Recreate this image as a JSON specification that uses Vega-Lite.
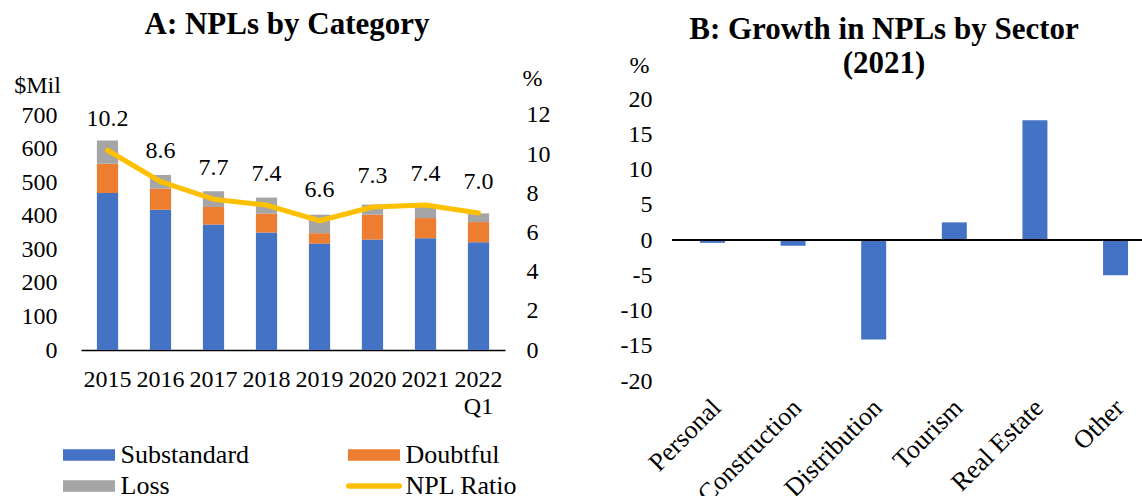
{
  "$schema": "https://vega.github.io/schema/vega-lite/v6.json",
  "autosize": {"type": "pad"},
  "padding": {"left": 13, "top": 9, "right": 0, "bottom": 0},
  "bounds": "flush",
  "spacing": 167,
  "datasets": {
    "npl": [
      {"year": "2015", "category": "Substandard", "value": 468},
      {"year": "2015", "category": "Doubtful", "value": 87},
      {"year": "2015", "category": "Loss", "value": 69},
      {"year": "2016", "category": "Substandard", "value": 418},
      {"year": "2016", "category": "Doubtful", "value": 62},
      {"year": "2016", "category": "Loss", "value": 41},
      {"year": "2017", "category": "Substandard", "value": 374},
      {"year": "2017", "category": "Doubtful", "value": 52},
      {"year": "2017", "category": "Loss", "value": 47},
      {"year": "2018", "category": "Substandard", "value": 350},
      {"year": "2018", "category": "Doubtful", "value": 56},
      {"year": "2018", "category": "Loss", "value": 48},
      {"year": "2019", "category": "Substandard", "value": 317},
      {"year": "2019", "category": "Doubtful", "value": 31},
      {"year": "2019", "category": "Loss", "value": 55},
      {"year": "2020", "category": "Substandard", "value": 329},
      {"year": "2020", "category": "Doubtful", "value": 74},
      {"year": "2020", "category": "Loss", "value": 30},
      {"year": "2021", "category": "Substandard", "value": 333},
      {"year": "2021", "category": "Doubtful", "value": 60},
      {"year": "2021", "category": "Loss", "value": 36},
      {"year": "2022 Q1", "category": "Substandard", "value": 321},
      {"year": "2022 Q1", "category": "Doubtful", "value": 60},
      {"year": "2022 Q1", "category": "Loss", "value": 26}
    ],
    "ratio": [
      {"year": "2015", "ratio": 10.2},
      {"year": "2016", "ratio": 8.6},
      {"year": "2017", "ratio": 7.7},
      {"year": "2018", "ratio": 7.4},
      {"year": "2019", "ratio": 6.6},
      {"year": "2020", "ratio": 7.3},
      {"year": "2021", "ratio": 7.4},
      {"year": "2022 Q1", "ratio": 7.0}
    ],
    "sector": [
      {"sector": "Personal", "growth": -0.4},
      {"sector": "Construction", "growth": -0.8},
      {"sector": "Distribution", "growth": -14.1},
      {"sector": "Tourism", "growth": 2.5},
      {"sector": "Real Estate", "growth": 17.0},
      {"sector": "Other", "growth": -5.0}
    ]
  },
  "config": {
    "font": "Liberation Serif",
    "view": {"stroke": null},
    "axis": {
      "labelFont": "Liberation Serif", "labelFontSize": 24, "labelColor": "#000",
      "titleFont": "Liberation Serif", "titleFontSize": 24, "titleFontWeight": "normal", "titleColor": "#000",
      "ticks": false, "grid": false, "domain": false, "labelOverlap": false, "labelBound": false, "labelFlush": false
    },
    "title": {"font": "Liberation Serif", "fontSize": 31, "fontWeight": "bold", "color": "#000"}
  },
  "hconcat": [
    {
      "width": 424,
      "height": 251,
      "title": {"text": "A: NPLs by Category", "anchor": "middle", "frame": "group", "dx": -6, "offset": 1, "baseline": "alphabetic"},
      "layer": [
        {
          "data": {"name": "npl"},
          "transform": [{"calculate": "indexof(['Substandard','Doubtful','Loss'], datum.category)", "as": "k"}],
          "mark": {"type": "bar"},
          "encoding": {
            "x": {
              "field": "year", "type": "nominal", "sort": null,
              "scale": {"paddingInner": 0.6, "paddingOuter": 0.3},
              "axis": {
                "title": null, "labelAngle": 0, "domain": true, "domainColor": "#000", "domainWidth": 1.5,
                "labelPadding": 17, "labelBaseline": "top", "labelLineHeight": 27,
                "labelExpr": "datum.value == '2022 Q1' ? ['2022', 'Q1'] : datum.label"
              }
            },
            "y": {
              "field": "value", "type": "quantitative", "stack": "zero",
              "scale": {"domain": [0, 747.66], "nice": false},
              "axis": {
                "values": [0, 100, 200, 300, 400, 500, 600, 700],
                "title": "$Mil", "titleAngle": 0, "titleX": -44, "titleY": -14,
                "titleAlign": "center", "titleBaseline": "middle", "labelPadding": 24
              }
            },
            "color": {
              "field": "category", "type": "nominal",
              "scale": {
                "domain": ["Substandard", "Doubtful", "Loss", "NPL Ratio"],
                "range": ["#4472C4", "#ED7D31", "#A5A5A5", "#FFC000"]
              },
              "legend": {
                "orient": "none", "legendX": -5, "legendY": 343, "columns": 2, "direction": "horizontal",
                "columnPadding": 95, "rowPadding": 5, "title": null,
                "labelFont": "Liberation Serif", "labelFontSize": 26, "labelColor": "#000",
                "symbolSize": 169, "labelOffset": 18.5, "symbolType": "M-4,-0.9H4V0.9H-4Z", "symbolStrokeWidth": 0,
                "encode": {
                  "symbols": {
                    "update": {
                      "shape": [
                        {"test": "datum.value === 'NPL Ratio'", "value": "M-3.9,-0.42H3.9A0.42,0.42 0 0 1 3.9,0.42H-3.9A0.42,0.42 0 0 1 -3.9,-0.42Z"},
                        {"value": "M-4,-0.9H4V0.9H-4Z"}
                      ],
                      "fill": {"scale": "color", "field": "value"},
                      "strokeWidth": {"value": 0},
                      "opacity": {"value": 1}
                    }
                  }
                }
              }
            },
            "order": {"field": "k", "type": "quantitative", "sort": "ascending"}
          }
        },
        {
          "data": {"name": "ratio"},
          "encoding": {
            "x": {"field": "year", "type": "nominal", "sort": null},
            "y": {
              "field": "ratio", "type": "quantitative",
              "scale": {"domain": [0, 12.817], "nice": false},
              "axis": {
                "orient": "right", "values": [0, 2, 4, 6, 8, 10, 12],
                "title": "%", "titleAngle": 0, "titleX": 27, "titleY": -21,
                "titleAlign": "center", "titleBaseline": "middle", "labelPadding": 21
              }
            }
          },
          "layer": [
            {
              "mark": {"type": "line", "strokeWidth": 5, "strokeCap": "round", "strokeJoin": "round"},
              "encoding": {"color": {"datum": "NPL Ratio", "legend": null}}
            },
            {
              "mark": {"type": "text", "dy": -31, "fontSize": 24, "font": "Liberation Serif", "color": "#000"},
              "encoding": {"text": {"field": "ratio", "type": "quantitative", "format": ".1f"}}
            }
          ]
        }
      ],
      "resolve": {"scale": {"y": "independent"}}
    },
    {
      "width": 470,
      "height": 282,
      "title": {"text": ["B: Growth in NPLs by Sector", "(2021)"], "anchor": "middle", "frame": "group", "dx": -23, "lineHeight": 34, "offset": -51, "baseline": "alphabetic"},
      "data": {"name": "sector"},
      "layer": [
        {
          "mark": {"type": "bar", "color": "#4472C4"},
          "encoding": {
            "x": {
              "field": "sector", "type": "nominal", "sort": null,
              "scale": {"paddingInner": 0.69, "paddingOuter": 0.26, "align": 0.667},
              "axis": {"title": null, "labelAngle": -45, "labelAlign": "right", "labelBaseline": "top", "labelPadding": 13, "labelOffset": -5, "labelFontSize": 26}
            },
            "y": {
              "field": "growth", "type": "quantitative",
              "scale": {"domain": [-20, 20], "nice": false},
              "axis": {
                "values": [-20, -15, -10, -5, 0, 5, 10, 15, 20],
                "labelExpr": "'' + datum.value",
                "title": "%", "titleAngle": 0, "titleX": -33, "titleY": -34,
                "titleAlign": "center", "titleBaseline": "middle", "labelPadding": 20
              }
            }
          }
        },
        {
          "mark": {"type": "rule", "color": "#000", "strokeWidth": 1.5},
          "encoding": {
            "y": {
              "datum": 0, "type": "quantitative",
              "axis": {
                "values": [-20, -15, -10, -5, 0, 5, 10, 15, 20],
                "labelExpr": "'' + datum.value",
                "title": "%", "titleAngle": 0, "titleX": -33, "titleY": -34,
                "titleAlign": "center", "titleBaseline": "middle", "labelPadding": 20
              }
            }
          }
        }
      ]
    }
  ]
}
